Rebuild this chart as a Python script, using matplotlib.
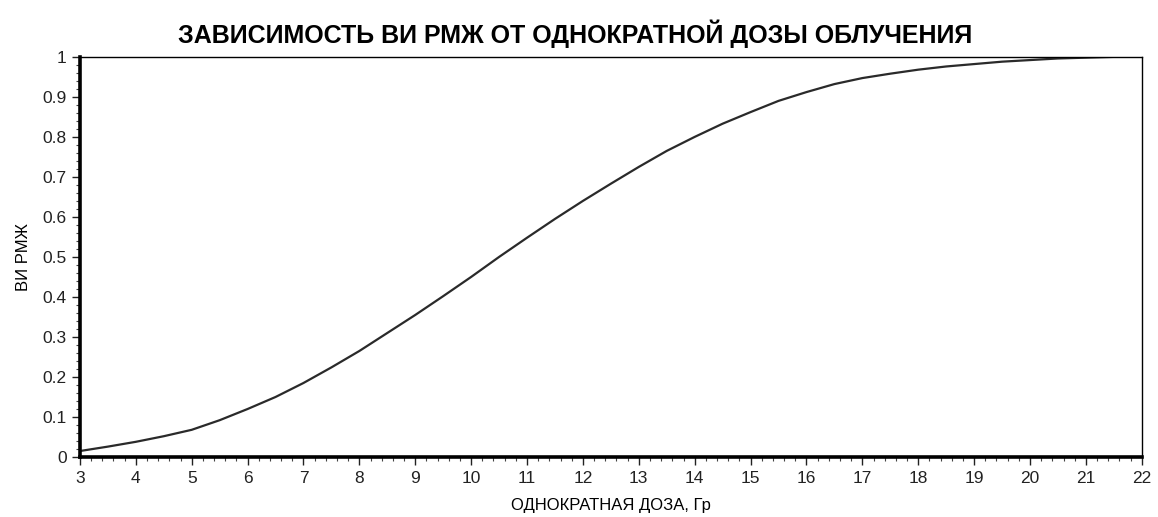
import matplotlib.pyplot as plt
from matplotlib.ticker import MultipleLocator, AutoMinorLocator

# dose (Gy) and probability
dose = [3, 3.5, 4, 4.5, 5, 5.5, 6, 6.5, 7, 7.5, 8, 8.5, 9, 9.5, 10, 10.5, 11, 11.5, 12,
        12.5, 13, 13.5, 14, 14.5, 15, 15.5, 16, 16.5, 17, 17.5, 18, 18.5, 19, 19.5, 20,
        20.5, 21, 21.5]
prob = [0.015, 0.026, 0.038, 0.052, 0.068, 0.092, 0.12, 0.15, 0.185, 0.224, 0.265, 0.31,
        0.355, 0.402, 0.45, 0.5, 0.548, 0.595, 0.64, 0.683, 0.725, 0.765, 0.80, 0.833,
        0.862, 0.89, 0.912, 0.932, 0.947, 0.958, 0.968, 0.976, 0.982, 0.988, 0.992,
        0.996, 0.998, 1.0]

title = 'ЗАВИСИМОСТЬ ВИ РМЖ ОТ ОДНОКРАТНОЙ ДОЗЫ ОБЛУЧЕНИЯ'
xlabel = 'ОДНОКРАТНАЯ ДОЗА, Гр'
ylabel = 'ВИ РМЖ'

plt.rcParams['font.family'] = ['Liberation Sans', 'DejaVu Sans']

fig = plt.figure(figsize=(11.58, 5.17), dpi=100)
ax = fig.add_axes([0.069, 0.116, 0.917, 0.774])

ax.plot(dose, prob, color='#2a2a2a', lw=1.6)

ax.set_xlim(3, 22)
ax.set_ylim(0, 1)
ax.xaxis.set_major_locator(MultipleLocator(1))
ax.yaxis.set_major_locator(MultipleLocator(0.1))
ax.xaxis.set_minor_locator(AutoMinorLocator(5))
ax.yaxis.set_minor_locator(AutoMinorLocator(5))
ax.yaxis.set_major_formatter(plt.FuncFormatter(lambda v, p: '%g' % round(v, 1)))

ax.tick_params(which='major', direction='out', length=6, width=1, labelsize=12.5, colors='#222222')
ax.tick_params(which='minor', direction='out', length=3, width=0.8, colors='#444444')
ax.tick_params(axis='x', pad=4)

for s in ['left', 'bottom']:
    ax.spines[s].set_linewidth(2.6)
for s in ['top', 'right']:
    ax.spines[s].set_linewidth(1.0)

ax.set_xlabel(xlabel, fontsize=12, labelpad=9)
ax.set_ylabel(ylabel, fontsize=12, labelpad=8)
fig.text(0.497, 0.935, title, ha='center', va='center', fontsize=18, fontweight='bold')

fig.savefig('out.png', dpi=100)
